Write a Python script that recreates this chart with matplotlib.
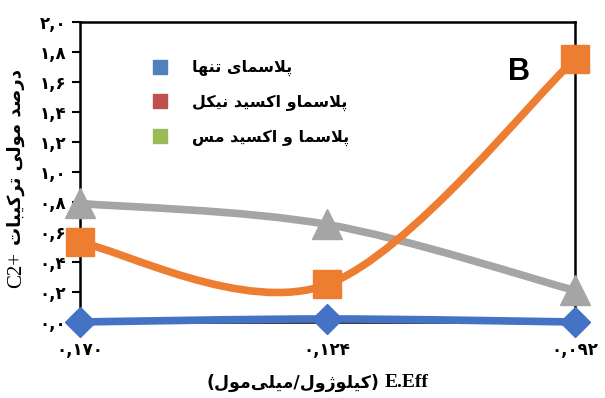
import matplotlib
matplotlib.use("Agg")
import matplotlib.pyplot as plt
from matplotlib.path import Path
from matplotlib.patches import PathPatch
from matplotlib.lines import Line2D

# داده‌ها
x_labels = ["۰,۱۷۰", "۰,۱۲۴", "۰,۰۹۲"]
plasma_only = [0.0, 0.02, 0.0]
plasma_nio = [0.53, 0.25, 1.75]
plasma_cuo = [0.79, 0.65, 0.21]
y_ticks = [0.0, 0.2, 0.4, 0.6, 0.8, 1.0, 1.2, 1.4, 1.6, 1.8, 2.0]
y_tick_labels = ["۰,۰", "۰,۲", "۰,۴", "۰,۶", "۰,۸", "۱,۰", "۱,۲", "۱,۴", "۱,۶", "۱,۸", "۲,۰"]
legend_labels = ["پلاسمای تنها", "پلاسماو اکسید نیکل", "پلاسما و اکسید مس"]
legend_colors = ["#4F81BD", "#C0504D", "#9BBB59"]

# شکل‌دهی ساده حروف فارسی (matplotlib خودش حروف را به هم وصل نمی‌کند)
FORMS = {
    "ا": ("\uFE8D", "\uFE8E", None, None),
    "ب": ("\uFE8F", "\uFE90", "\uFE91", "\uFE92"),
    "پ": ("\uFB56", "\uFB57", "\uFB58", "\uFB59"),
    "ت": ("\uFE95", "\uFE96", "\uFE97", "\uFE98"),
    "د": ("\uFEA9", "\uFEAA", None, None),
    "ر": ("\uFEAD", "\uFEAE", None, None),
    "ژ": ("\uFB8A", "\uFB8B", None, None),
    "س": ("\uFEB1", "\uFEB2", "\uFEB3", "\uFEB4"),
    "ص": ("\uFEB9", "\uFEBA", "\uFEBB", "\uFEBC"),
    "ک": ("\uFB8E", "\uFB8F", "\uFB90", "\uFB91"),
    "ل": ("\uFEDD", "\uFEDE", "\uFEDF", "\uFEE0"),
    "م": ("\uFEE1", "\uFEE2", "\uFEE3", "\uFEE4"),
    "ن": ("\uFEE5", "\uFEE6", "\uFEE7", "\uFEE8"),
    "ه": ("\uFEE9", "\uFEEA", "\uFEEB", "\uFEEC"),
    "و": ("\uFEED", "\uFEEE", None, None),
    "ی": ("\uFBFC", "\uFBFD", "\uFBFE", "\uFBFF"),
}


def joins_next(ch):
    return ch in FORMS and FORMS[ch][2] is not None


def fa(text):
    # حروف را شکل می‌دهد و برای نمایش چپ به راست برعکس می‌کند
    chars = list(text)
    out = []
    i = 0
    while i < len(chars):
        ch = chars[i]
        prev = chars[i - 1] if i > 0 else ""
        con_prev = joins_next(prev)
        if ch == "ل" and i + 1 < len(chars) and chars[i + 1] == "ا":
            out.append("\uFEFC" if con_prev else "\uFEFB")
            i += 2
            continue
        if ch == "\u200c":
            i += 1
            continue
        if ch in FORMS:
            nxt = chars[i + 1] if i + 1 < len(chars) else ""
            con_next = joins_next(ch) and nxt in FORMS
            iso, fin, ini, med = FORMS[ch]
            if con_prev and con_next:
                out.append(med)
            elif con_prev:
                out.append(fin)
            elif con_next:
                out.append(ini)
            else:
                out.append(iso)
        else:
            out.append(ch)
        i += 1
    return "".join(reversed(out))


def smooth_path(xs, ys):
    # منحنی هموار با بزیه (مثل خطوط هموار اکسل)
    pts = list(zip(xs, ys))
    verts = [pts[0]]
    codes = [Path.MOVETO]
    n = len(pts)
    for i in range(n - 1):
        p0 = pts[i - 1] if i > 0 else pts[i]
        p1 = pts[i]
        p2 = pts[i + 1]
        p3 = pts[i + 2] if i + 2 < n else pts[i + 1]
        c1 = (p1[0] + (p2[0] - p0[0]) / 6, p1[1] + (p2[1] - p0[1]) / 6)
        c2 = (p2[0] - (p3[0] - p1[0]) / 6, p2[1] - (p3[1] - p1[1]) / 6)
        verts += [c1, c2, p2]
        codes += [Path.CURVE4] * 3
    return Path(verts, codes)


fa_font = {"family": "DejaVu Sans", "weight": "bold"}

fig = plt.figure(figsize=(6.05, 3.98), dpi=100)
ax = fig.add_axes([0.132, 0.191, 0.818, 0.754])

xs = list(range(len(x_labels)))
series = [
    (plasma_cuo, "#A5A5A5", "^", 22),
    (plasma_nio, "#ED7D31", "s", 20),
    (plasma_only, "#4472C4", "D", 15),
]
for vals, col, mk, ms in series:
    ax.add_patch(PathPatch(smooth_path(xs, vals), fill=False, edgecolor=col,
                           lw=5.5, capstyle="round", joinstyle="round", clip_on=False, zorder=3))
    ax.plot(xs, vals, ls="", marker=mk, ms=ms, color=col, clip_on=False, zorder=4)

ax.set_xlim(0, 2)
ax.set_ylim(0, 2.0)
ax.set_xticks(xs)
ax.set_xticklabels(x_labels, fontdict=fa_font, fontsize=12)
ax.set_yticks(y_ticks)
ax.set_yticklabels(y_tick_labels, fontdict=fa_font, fontsize=12)
ax.tick_params(axis="x", length=0, pad=14)
ax.tick_params(axis="y", length=6, width=1.5, pad=4, direction="out")
for sp in ax.spines.values():
    sp.set_linewidth(1.8)
    sp.set_color("black")

handles = [Line2D([], [], ls="", marker="s", ms=10, color=c) for c in legend_colors]
leg = ax.legend(handles, [fa(t) for t in legend_labels], loc="upper left",
                bbox_to_anchor=(0.1, 0.92), frameon=False, labelspacing=1.15,
                handletextpad=1.0, prop={"family": "DejaVu Sans", "weight": "bold", "size": 11.5})

ax.text(0.865, 0.805, "B", transform=ax.transAxes, fontsize=22, fontweight="bold",
        family="Liberation Sans")

# عنوان محورها
fig.text(0.027, 0.322, "C2+", rotation=90, ha="center", va="center",
         family="Liberation Serif", fontsize=15)
fig.text(0.027, 0.605, fa("درصد مولی ترکیبات"), rotation=90, ha="center", va="center",
         fontdict=fa_font, fontsize=13)
fig.text(0.627, 0.038, "(" + fa("کیلوژول/میلی\u200cمول") + ")", ha="right", va="center",
         fontdict=fa_font, fontsize=12.5)
fig.text(0.636, 0.038, "E.Eff", ha="left", va="center", family="Liberation Serif",
         fontweight="bold", fontsize=14)

fig.savefig("out.png", dpi=100)
